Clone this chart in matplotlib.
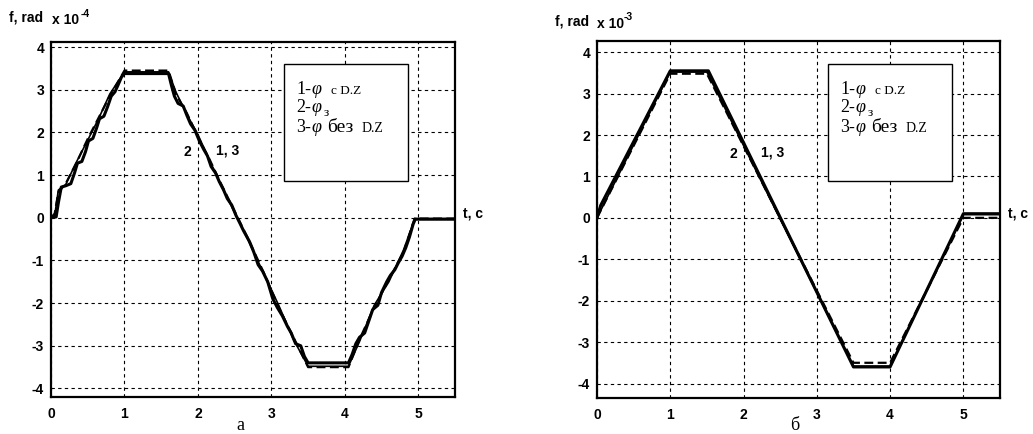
import numpy as np
import matplotlib.pyplot as plt

plt.rcParams['axes.unicode_minus'] = False

# ---- data ----
# panel a (x 10^-4)
a_t1 = [0, 0.07, 0.1, 0.14, 0.2, 0.27, 0.32, 0.36, 0.42, 0.47, 0.51, 0.57, 0.62, 0.66, 0.72, 0.77,
        0.82, 0.87, 0.91, 0.96, 1.0, 1.6, 1.64, 1.68, 1.73, 1.8, 1.85, 1.9, 1.96, 2.02, 2.08, 2.13,
        2.18, 2.24, 2.29, 2.35, 2.4, 2.46, 2.52, 2.57, 2.62, 2.7, 2.76, 2.82, 2.88, 2.95, 3.02, 3.08,
        3.15, 3.22, 3.27, 3.33, 3.4, 3.45, 3.5, 4.05, 4.1, 4.15, 4.2, 4.27, 4.33, 4.38, 4.45, 4.5,
        4.57, 4.62, 4.68, 4.73, 4.78, 4.83, 4.88, 4.93, 4.96, 5.5]
a_v1 = [0, 0.02, 0.35, 0.72, 0.75, 0.8, 1.05, 1.28, 1.32, 1.55, 1.8, 1.86, 2.1, 2.32, 2.38, 2.6,
        2.85, 2.95, 3.1, 3.3, 3.38, 3.38, 3.1, 2.85, 2.68, 2.62, 2.4, 2.2, 2.05, 1.8, 1.6, 1.45,
        1.2, 1.05, 0.85, 0.65, 0.45, 0.3, 0.05, -0.12, -0.3, -0.55, -0.8, -1.1, -1.25, -1.5, -1.9, -2.1,
        -2.3, -2.55, -2.7, -2.95, -3.0, -3.25, -3.4, -3.4, -3.2, -2.95, -2.8, -2.7, -2.4, -2.15, -2.05, -1.75,
        -1.5, -1.35, -1.22, -1.05, -0.9, -0.7, -0.45, -0.15, -0.03, -0.03]
a_t2 = [0, 0.05, 0.1, 0.2, 0.35, 0.5, 0.65, 0.8, 1.0, 1.6, 1.7, 1.85, 2.0, 2.15, 2.3, 2.5, 2.7,
        2.9, 3.1, 3.3, 3.5, 4.05, 4.2, 4.4, 4.6, 4.8, 4.95, 5.5]
a_v2 = [0, 0.1, 0.6, 0.8, 1.3, 1.85, 2.35, 2.85, 3.45, 3.45, 2.9, 2.45, 1.9, 1.4, 0.85, 0.15, -0.55,
        -1.3, -2.1, -2.8, -3.5, -3.5, -2.85, -2.1, -1.45, -0.8, -0.02, -0.02]
a_v3 = [0, 0.05, 0.65, 0.78, 1.32, 1.82, 2.33, 2.9, 3.42, 3.42, 2.95, 2.42, 1.95, 1.38, 0.82, 0.12, -0.58,
        -1.32, -2.05, -2.85, -3.48, -3.48, -2.9, -2.05, -1.5, -0.75, -0.04, -0.04]

# panel б (x 10^-3)
b_t1 = [0, 0.05, 1.0, 1.52, 3.5, 4.0, 5.0, 5.5]
b_v1 = [0, 0.3, 3.55, 3.55, -3.6, -3.6, 0.1, 0.1]
b_t2 = [0, 1.0, 1.5, 3.5, 4.0, 5.0, 5.5]
b_v2 = [0, 3.48, 3.48, -3.5, -3.5, 0, 0]
b_v3 = [0, 3.52, 3.52, -3.58, -3.58, 0.08, 0.08]

xticks = [0, 1, 2, 3, 4, 5]
yticks = [-4, -3, -2, -1, 0, 1, 2, 3, 4]

W, H = 1033, 434
fig = plt.figure(figsize=(W / 100, H / 100), dpi=100)

def P(x, y):
    return x / W, 1 - y / H

sans = 'Liberation Sans'
serif = 'Liberation Serif'

def panel(rect, ylim, t1, v1, t2, v2, v3):
    ax = fig.add_axes(rect)
    ax.plot(t2, v3, color='k', lw=1.2)
    ax.plot(t1, v1, color='k', lw=2.2)
    ax.plot(t2, v2, color='k', lw=1.6, ls=(0, (4, 2)))
    ax.set_xlim(0, 5.5)
    ax.set_ylim(*ylim)
    ax.set_xticks(xticks)
    ax.set_yticks(yticks)
    ax.grid(True, color='k', lw=0.8, ls=(0, (3, 3)))
    ax.tick_params(direction='in', length=0, pad=5)
    for lab in ax.get_xticklabels() + ax.get_yticklabels():
        lab.set_fontfamily(sans)
        lab.set_fontweight('bold')
        lab.set_fontsize(10)
    ax.tick_params(axis='x', pad=7)
    for s in ax.spines.values():
        s.set_linewidth(1.6)
    return ax

ax1 = panel([51 / W, 1 - 397 / H, 404 / W, 355 / H], (-4.2, 4.12), a_t1, a_v1, a_t2, a_v2, a_v3)
ax2 = panel([597 / W, 1 - 398 / H, 403 / W, 357 / H], (-4.35, 4.27), b_t1, b_v1, b_t2, b_v2, b_v3)

for ax in (ax1, ax2):
    ax.text(1.86, 1.55, '2', fontfamily=sans, fontweight='bold', fontsize=10, ha='center', va='center')
    ax.text(2.4, 1.58, '1, 3', fontfamily=sans, fontweight='bold', fontsize=10, ha='center', va='center')

# axis titles
bold = dict(fontfamily=sans, fontweight='bold', va='center')
fig.text(*P(9, 18), 'f, rad', fontsize=10, **bold)
fig.text(*P(52, 20), 'x 10', fontsize=10, **bold)
fig.text(*P(81, 14), '-4', fontsize=7.5, **bold)
fig.text(*P(555, 22), 'f, rad', fontsize=10, **bold)
fig.text(*P(597, 24), 'x 10', fontsize=10, **bold)
fig.text(*P(624, 17), '-3', fontsize=7.5, **bold)
fig.text(*P(463, 214), 't, c', fontsize=10, **bold)
fig.text(*P(1008, 214), 't, c', fontsize=10, **bold)
fig.text(*P(240, 426), 'а', fontfamily=serif, fontsize=13, ha='center', va='center')
fig.text(*P(795, 426), 'б', fontfamily=serif, fontsize=13, ha='center', va='center')

# legend boxes
for dx in (0, 544):
    x0, y0, x1, y1 = 284 + dx, 64, 408 + dx, 181
    fig.patches.append(plt.Rectangle(P(x0, y1), (x1 - x0) / W, (y1 - y0) / H, transform=fig.transFigure,
                                     fill=True, facecolor='white', edgecolor='k', lw=1.0, zorder=5))
    items = [
        (296, 90, '1-', 13, 'normal'), (311, 90, 'φ', 13, 'italic'), (331, 91, 'c D.Z', 9.5, 'normal'),
        (296, 108, '2-', 13, 'normal'), (311, 108, 'φ', 13, 'italic'), (324, 113, 'з', 9.5, 'normal'),
        (296, 127, '3-', 13, 'normal'), (311, 127, 'φ', 13, 'italic'), (327, 127, 'без', 14, 'normal'),
        (362, 128, 'D.Z', 10, 'normal'),
    ]
    for x, y, s, fs, st in items:
        fig.text(*P(x + dx, y), s, fontfamily=serif, fontsize=fs, fontstyle=st, va='center', zorder=6)

plt.savefig('out.png', dpi=100)
